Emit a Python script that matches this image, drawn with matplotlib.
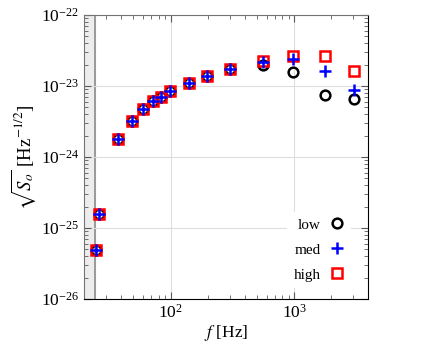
import matplotlib.pyplot as plt

plt.rcParams['font.family'] = ['Liberation Serif', 'DejaVu Serif']
plt.rcParams['mathtext.fontset'] = 'stix'

# frequencies [Hz] and amplitude spectral densities
freq = [24.8, 26.2, 37.6, 48.4, 59.8, 72, 83, 99.4, 140, 196, 305, 563, 977, 1787, 3063]
low = [4.93e-26, 1.56e-25, 1.78e-24, 3.2e-24, 4.7e-24, 6.1e-24, 7.1e-24, 8.45e-24,
       1.1e-23, 1.37e-23, 1.76e-23, 2.0e-23, 1.56e-23, 7.5e-24, 6.45e-24]
med = [4.93e-26, 1.56e-25, 1.78e-24, 3.2e-24, 4.7e-24, 6.1e-24, 7.1e-24, 8.45e-24,
       1.1e-23, 1.37e-23, 1.76e-23, 2.2e-23, 2.4e-23, 1.6e-23, 8.65e-24]
high = [4.93e-26, 1.56e-25, 1.78e-24, 3.2e-24, 4.7e-24, 6.1e-24, 7.1e-24, 8.45e-24,
        1.1e-23, 1.37e-23, 1.76e-23, 2.23e-23, 2.63e-23, 2.63e-23, 1.6e-23]
f_cut = 24.4

fig = plt.figure(figsize=(4.36, 3.47), dpi=100)
ax = fig.add_axes([0.193, 0.138, 0.651, 0.819])

ax.axvspan(20, f_cut, color='0.93', zorder=0)
ax.axvline(f_cut, color='0.6', lw=1.4, zorder=1)

ax.plot(freq, low, 'o', ls='none', mfc='none', mec='k', ms=7, mew=1.8, label='low')
ax.plot(freq, high, 's', ls='none', mfc='none', mec='r', ms=7.5, mew=1.8, label='high', zorder=3)
ax.plot(freq, med, '+', ls='none', color='b', ms=8, mew=1.8, label='med', zorder=4)

ax.set_xscale('log')
ax.set_yscale('log')
ax.set_xlim(20, 3950)
ax.set_ylim(1e-26, 1e-22)
ax.grid(True, which='major', color='0.87', lw=0.8)
ax.tick_params(which='both', direction='in', top=True, right=True, labelsize=12.5, color='0.35')
ax.tick_params(which='major', length=5)
ax.tick_params(which='minor', length=3)
for s in ['left', 'top']:
    ax.spines[s].set_color('0.45')

ax.set_xlabel('$f$ [Hz]', fontsize=12.5, labelpad=1)
ax.set_ylabel(r'$\sqrt{S_o}$ [Hz$^{-1/2}$]', fontsize=13.5, labelpad=2)

h, l = ax.get_legend_handles_labels()
order = [0, 2, 1]
ax.legend([h[i] for i in order], [l[i] for i in order], loc='lower right',
          bbox_to_anchor=(0.972, 0.007),
          markerfirst=False, frameon=True, facecolor='white', edgecolor='none',
          framealpha=1, fontsize=11, labelspacing=0.75, handlelength=1.0,
          handletextpad=0.6, borderaxespad=0.6)

plt.savefig('out.png')
